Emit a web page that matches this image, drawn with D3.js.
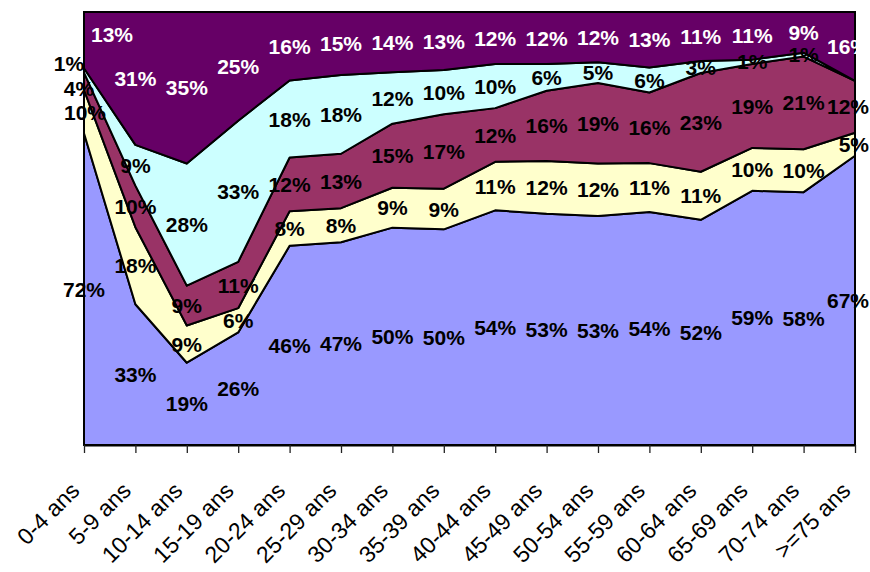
<!DOCTYPE html>
<html>
<head>
<meta charset="utf-8">
<script src="https://cdn.jsdelivr.net/npm/d3@7"></script>
<style>
  html, body { margin: 0; padding: 0; background: #fff; }
  svg { display: block; }
</style>
</head>
<body>
<svg id="chart" width="870" height="572"></svg>
<script>
// ---- Data (percent shares per age group) ----
const categories = ["0-4 ans","5-9 ans","10-14 ans","15-19 ans","20-24 ans","25-29 ans","30-34 ans","35-39 ans","40-44 ans","45-49 ans","50-54 ans","55-59 ans","60-64 ans","65-69 ans","70-74 ans",">=75 ans"];
const seriesNames = ["s1","s2","s3","s4","s5"];
const s1 = [72, 32.5, 19, 26, 46, 46.9, 50.2, 49.8, 54.2, 53.4, 52.9, 53.8, 52, 58.7, 58.4, 66.8];
const s2 = [10, 17.8, 8.6, 5.6, 8, 7.9, 9.2, 9.4, 11.2, 12.2, 12.1, 11.3, 11.1, 9.9, 9.9, 5.3];
const s3 = [4, 9.6, 9.2, 10.7, 12.4, 12.6, 14.8, 17.2, 12.4, 16.2, 18.6, 16.3, 22.8, 19.4, 21.4, 12];
const s4 = [1, 9.4, 28.2, 32.6, 17.8, 18.2, 11.9, 10.2, 10.2, 6.2, 4.8, 5.8, 2.8, 1, 0.9, 0];
const s5 = [13, 30.7, 35, 25.1, 15.8, 14.6, 13.9, 13.4, 12, 12, 11.6, 12.8, 11.3, 11, 9.4, 15.9];
const seriesValues = [s1, s2, s3, s4, s5];

// ---- Styles ----
const fills = ["#9999FF", "#FFFFCC", "#993366", "#CCFFFF", "#660066"];
const labelColors = ["#000", "#000", "#000", "#000", "#fff"];
// small manual nudges of a few data labels (series index, category index) -> [dx, dy]
const nudges = {"4-0": [28, -6], "3-0": [-15, -7], "2-0": [-5, 7], "1-0": [1, 1]};

const W = 870, H = 572;
const m = {left: 84, right: 15, top: 12, bottom: 127};
const svg = d3.select("#chart");

const table = categories.map((c, i) => {
  const row = {cat: c, idx: i};
  seriesNames.forEach((s, k) => row[s] = seriesValues[k][i]);
  return row;
});

const stack = d3.stack().keys(seriesNames).offset(d3.stackOffsetExpand);
const layers = stack(table);

const x = d3.scalePoint().domain(categories).range([m.left, W - m.right]);
const y = d3.scaleLinear().domain([0, 1]).range([H - m.bottom, m.top]);

const area = d3.area()
  .x(d => x(d.data.cat))
  .y0(d => y(d[0]))
  .y1(d => y(d[1]));

svg.append("g").selectAll("path")
  .data(layers)
  .join("path")
  .attr("d", area)
  .attr("fill", (d, k) => fills[k])
  .attr("stroke", "#000")
  .attr("stroke-width", 2)
  .attr("stroke-linejoin", "round");

// plot border
svg.append("rect")
  .attr("x", m.left).attr("y", m.top)
  .attr("width", W - m.right - m.left)
  .attr("height", H - m.bottom - m.top)
  .attr("fill", "none").attr("stroke", "#000").attr("stroke-width", 2);

// x axis
const xAxis = d3.axisBottom(x).tickSize(8).tickSizeOuter(0).tickFormat("");
const gx = svg.append("g").attr("transform", `translate(0,${H - m.bottom})`).call(xAxis);
gx.select(".domain").attr("stroke", "#000").attr("stroke-width", 2);
gx.selectAll(".tick line").attr("stroke", "#222").attr("stroke-width", 1.3);

svg.append("g").selectAll("text")
  .data(categories)
  .join("text")
  .attr("transform", d => `translate(${x(d) - 3},${H - m.bottom + 47}) rotate(-45)`)
  .attr("text-anchor", "end")
  .attr("font-family", "'Liberation Sans', Arial, sans-serif")
  .attr("font-size", 23)
  .attr("fill", "#000")
  .text(d => d);

// data labels
const lg = svg.append("g")
  .attr("font-family", "'Liberation Sans', Arial, sans-serif")
  .attr("font-size", 21)
  .attr("font-weight", "bold");

layers.forEach((layer, k) => {
  layer.forEach((d, i) => {
    const v = seriesValues[k][i];
    if (!(v > 0)) return;
    const nd = nudges[k + "-" + i] || [0, 0];
    const t = lg.append("text")
      .attr("text-anchor", "middle")
      .attr("dy", "0.36em")
      .attr("fill", labelColors[k])
      .text(Math.round(v) + "%");
    const w = t.node().getComputedTextLength();
    let cx = x(d.data.cat) + nd[0];
    cx = Math.min(cx, W - w / 2 - 1);
    const cy = (y(d[0]) + y(d[1])) / 2 + nd[1];
    t.attr("x", cx).attr("y", cy);
  });
});
</script>
</body>
</html>
